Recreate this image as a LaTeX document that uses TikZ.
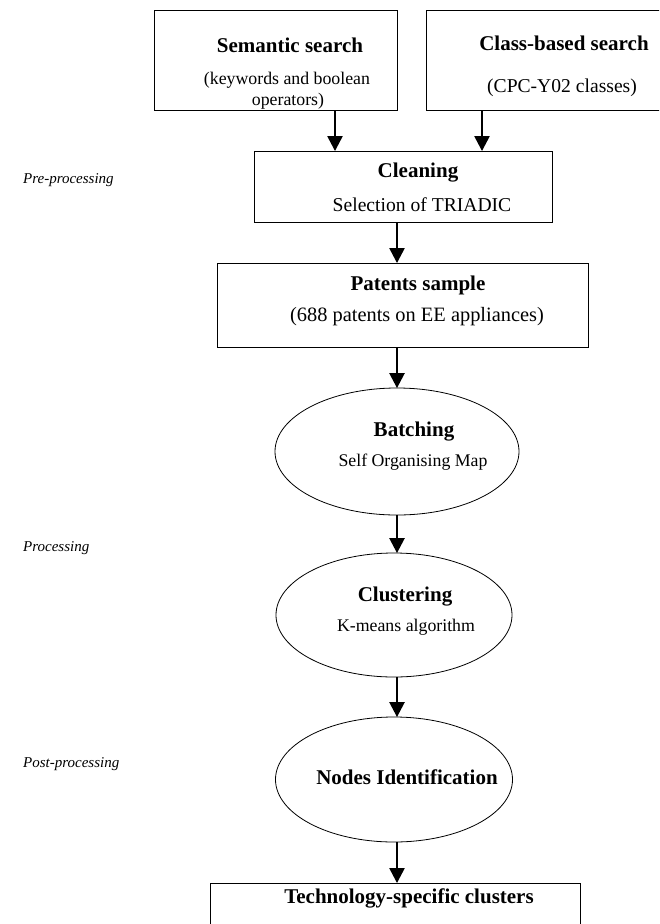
\documentclass[tikz,border=0pt]{standalone}
\usepackage{fontspec}
\setmainfont{Liberation Serif}
\usetikzlibrary{arrows.meta,shapes.geometric}
\begin{document}
\begin{tikzpicture}[x=1pt,y=-1pt,
  boxst/.style={draw=black, line width=0.9pt, rectangle, inner sep=0pt},
  ellst/.style={draw=black, line width=0.8pt, ellipse, inner sep=0pt},
  ttl/.style={font=\fontsize{21}{25}\selectfont\bfseries, inner sep=0pt},
  sub/.style={font=\fontsize{#1}{#1}\selectfont, inner sep=0pt},
  lbl/.style={font=\fontsize{15}{18}\selectfont\itshape, inner sep=0pt, anchor=west},
  arr/.style={line width=2.4pt, -{Triangle[width=15pt,length=15pt]}, shorten >=-0.5pt}
]
\clip (0,0) rectangle (659,924);
\fill[white] (0,0) rectangle (659,924);

% boxes
\node[boxst, minimum width=243pt, minimum height=100pt] (sem) at (275.5,60) {};
\node[boxst, minimum width=244pt, minimum height=100pt] (cls) at (548,60) {};
\node[boxst, minimum width=298pt, minimum height=71pt] (clean) at (403,186.5) {};
\node[boxst, minimum width=371pt, minimum height=84pt] (pat) at (402.5,305) {};
\node[ellst, minimum width=244pt, minimum height=127pt] (bat) at (397,451.5) {};
\node[ellst, minimum width=236pt, minimum height=124pt] (clu) at (394,615) {};
\node[ellst, minimum width=237pt, minimum height=125pt] (nid) at (394,779.5) {};
\node[boxst, minimum width=370pt, minimum height=77pt] (tech) at (395,921.5) {};

% texts
\node[ttl] (semT) at (290,45) {Semantic search};
\node[sub=17.8] (semS1) at (287,80) {(keywords and boolean};
\node[sub=17.8] (semS2) at (288,101) {operators)};
\node[ttl] (clsT) at (564,43) {Class-based search};
\node[sub=19.6] (clsS) at (562,88) {(CPC-Y02 classes)};
\node[ttl] (cleanT) at (418,173) {Cleaning};
\node[sub=19.6] (cleanS) at (422,205) {Selection of TRIADIC};
\node[ttl] (patT) at (418,285) {Patents sample};
\node[sub=20.4] (patS) at (417,317) {(688 patents on EE appliances)};
\node[ttl] (batT) at (414,432) {Batching};
\node[sub=17.8] (batS) at (413,462) {Self Organising Map};
\node[ttl] (cluT) at (405,597) {Clustering};
\node[sub=17.8] (cluS) at (406,627) {K-means algorithm};
\node[ttl] (nidT) at (407,777) {Nodes Identification};
\node[ttl] (techT) at (409,898) {Technology-specific clusters};

% side labels
\node[lbl] (pre) at (23,180) {Pre-processing};
\node[lbl] (proc) at (23,548) {Processing};
\node[lbl] (post) at (23,764) {Post-processing};

% arrows
\coordinate (a1) at (335,0);
\coordinate (a2) at (482,0);
\coordinate (a3) at (397,0);
\draw[arr] (sem.south -| a1) -- (clean.north -| a1);
\draw[arr] (cls.south -| a2) -- (clean.north -| a2);
\draw[arr] (clean.south -| a3) -- (pat.north -| a3);
\draw[arr] (pat.south -| a3) -- (bat.north);
\draw[arr] (bat.south) -- (clu.north -| a3);
\draw[arr] (clu.south -| a3) -- (nid.north -| a3);
\draw[arr] (nid.south -| a3) -- (tech.north -| a3);
\end{tikzpicture}
\end{document}
